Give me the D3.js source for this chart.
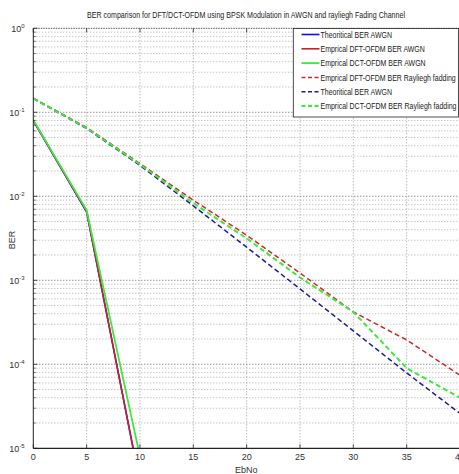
<!DOCTYPE html>
<html><head><meta charset="utf-8">
<script src="https://cdn.jsdelivr.net/npm/d3@7"></script>
<style>body{margin:0;background:#fff;overflow:hidden}</style>
</head><body><svg id="c" width="459" height="474"></svg>
<script>
// ---- data ----
const ebno = [0, 5, 10, 15, 20, 25, 30, 35, 40];
const ebnoAwgn = [0, 5, 10];
const theoryAwgn = [0.0795, 0.0065, 3.9e-6];
const dftAwgn = [0.080, 0.0066, 3.8e-6];
const dctAwgn = [0.081, 0.0068, 8.0e-6];
const dftRay = [0.147, 0.066, 0.0245, 0.0090, 0.00344, 0.00122, 0.00042, 0.000195, 0.000074];
const theoryRay = [0.146, 0.064, 0.0233, 0.0077, 0.00248, 0.00079, 0.00025, 0.000079, 0.000026];
const dctRay = [0.146, 0.065, 0.0240, 0.0083, 0.00316, 0.00108, 0.00042, 0.000090, 0.000040];
const xTicks = [0, 5, 10, 15, 20, 25, 30, 35, 40];
const yExps = [0, -1, -2, -3, -4, -5];
const titleText = "BER comparison for DFT/DCT-OFDM using BPSK Modulation in AWGN and rayliegh Fading Channel";
const xLabel = "EbNo";
const yLabel = "BER";
const legendLabels = [
  "Theoritical BER AWGN",
  "Emprical DFT-OFDM BER AWGN",
  "Emprical DCT-OFDM BER AWGN",
  "Emprical DFT-OFDM BER Rayliegh fadding",
  "Theoritical BER AWGN",
  "Emprical DCT-OFDM BER Rayliegh fadding"
];

const series = [
  {x: ebnoAwgn, y: theoryAwgn, color: "#1010e8", dash: null, w: 1.6},
  {x: ebnoAwgn, y: dftAwgn, color: "#c8202a", dash: null, w: 1.6},
  {x: ebnoAwgn, y: dctAwgn, color: "#3ee83e", dash: null, w: 1.8},
  {x: ebno, y: dftRay, color: "#d02828", dash: "5,3", w: 1.5},
  {x: ebno, y: theoryRay, color: "#1c1c96", dash: "5,3", w: 1.5},
  {x: ebno, y: dctRay, color: "#3ee83e", dash: "5,3", w: 2.0}
];

const svg = d3.select("#c");
const font = "'Liberation Sans Narrow','Arial Narrow','Liberation Sans',Arial,sans-serif";
const L = 33.3, R = 460, T = 28.3, B = 448.3;
const x = d3.scaleLinear().domain([0, 40]).range([L, R]);
const y = d3.scaleLog().domain([1e-5, 1]).range([B, T]);

svg.append("rect").attr("width", 459).attr("height", 474).attr("fill", "#fff");

// grid
const g = svg.append("g");
const minorVals = [];
for (let e = -5; e < 0; e++) for (let m = 2; m <= 9; m++) minorVals.push(m * Math.pow(10, e));
g.selectAll(".ymin").data(minorVals).enter().append("line")
  .attr("x1", L).attr("x2", R).attr("y1", d => y(d)).attr("y2", d => y(d))
  .attr("stroke", "#9a9a9a").attr("stroke-width", 0.8).attr("stroke-dasharray", "1,2");
g.selectAll(".ymaj").data(yExps.slice(1, 5)).enter().append("line")
  .attr("x1", L).attr("x2", R).attr("y1", d => y(Math.pow(10, d))).attr("y2", d => y(Math.pow(10, d)))
  .attr("stroke", "#555").attr("stroke-width", 0.9).attr("stroke-dasharray", "1,2");
g.selectAll(".xg").data(xTicks.slice(1)).enter().append("line")
  .attr("x1", d => x(d)).attr("x2", d => x(d)).attr("y1", T).attr("y2", B)
  .attr("stroke", "#8a8a8a").attr("stroke-width", 0.8).attr("stroke-dasharray", "1,2");

// lines
svg.append("clipPath").attr("id", "clip").append("rect")
  .attr("x", L).attr("y", T).attr("width", R - L).attr("height", B - T);
const lineGen = d3.line().x(d => x(d[0])).y(d => y(d[1]));
const lg = svg.append("g").attr("clip-path", "url(#clip)");
series.forEach(s => {
  lg.append("path").datum(s.x.map((v, i) => [v, s.y[i]]))
    .attr("d", lineGen).attr("fill", "none").attr("stroke", s.color)
    .attr("stroke-width", s.w).attr("stroke-dasharray", s.dash);
});

// axes box
svg.append("line").attr("x1", L).attr("x2", L).attr("y1", T).attr("y2", B).attr("stroke", "#222").attr("stroke-width", 1);
svg.append("line").attr("x1", L).attr("x2", R).attr("y1", B).attr("y2", B).attr("stroke", "#222").attr("stroke-width", 1.2);
svg.append("line").attr("x1", L).attr("x2", R).attr("y1", T).attr("y2", T).attr("stroke", "#444").attr("stroke-width", 0.9).attr("stroke-dasharray", "1.5,1");

// x ticks
const xAxisG = svg.append("g");
xAxisG.selectAll(".xt").data(xTicks).enter().append("line")
  .attr("x1", d => x(d)).attr("x2", d => x(d)).attr("y1", B).attr("y2", B - 4).attr("stroke", "#222").attr("stroke-width", 0.8);
xAxisG.selectAll(".xtt").data(xTicks).enter().append("line")
  .attr("x1", d => x(d)).attr("x2", d => x(d)).attr("y1", T).attr("y2", T + 4).attr("stroke", "#222").attr("stroke-width", 0.8);
xAxisG.selectAll(".xl").data(xTicks).enter().append("text")
  .attr("x", d => x(d)).attr("y", 460).attr("text-anchor", "middle")
  .attr("font-family", font).attr("font-size", 9).attr("fill", "#333").text(d => d);

// y ticks
svg.selectAll(".ytm").data(yExps).enter().append("line")
  .attr("x1", L).attr("x2", L + 4).attr("y1", d => y(Math.pow(10, d))).attr("y2", d => y(Math.pow(10, d)))
  .attr("stroke", "#222").attr("stroke-width", 0.8);
svg.selectAll(".ytn").data(minorVals).enter().append("line")
  .attr("x1", L).attr("x2", L + 2.5).attr("y1", d => y(d)).attr("y2", d => y(d))
  .attr("stroke", "#222").attr("stroke-width", 0.6);
const yl = svg.selectAll(".yl").data(yExps).enter().append("text")
  .attr("x", 24.5).attr("y", d => y(Math.pow(10, d)) + 3.5).attr("text-anchor", "end")
  .attr("font-family", font).attr("font-size", 9).attr("fill", "#333");
yl.append("tspan").text("10");
yl.append("tspan").attr("font-size", 6).attr("dy", -4).text(d => d);

// labels
const tt = svg.append("text").attr("x", 246).attr("y", 18).attr("text-anchor", "middle")
  .attr("font-family", font).attr("font-size", 9).attr("fill", "#222").text(titleText);
tt.attr("textLength", 318).attr("lengthAdjust", "spacingAndGlyphs");
svg.append("text").attr("x", 246.3).attr("y", 472.5).attr("text-anchor", "middle")
  .attr("font-family", font).attr("font-size", 9).attr("fill", "#333").text(xLabel);
svg.append("text").attr("transform", "translate(14.5,240) rotate(-90)").attr("text-anchor", "middle")
  .attr("font-family", font).attr("font-size", 9).attr("fill", "#333").text(yLabel);

// legend
const lx0 = 293.3, ly0 = 28.5, lw = 165.2, lh = 88.5;
const leg = svg.append("g");
leg.append("rect").attr("x", lx0).attr("y", ly0).attr("width", lw).attr("height", lh)
  .attr("fill", "#fff").attr("stroke", "#222").attr("stroke-width", 0.8);
const rowY = i => 34.5 + i * 14.3;
series.forEach((s, i) => {
  leg.append("line").attr("x1", 301.5).attr("x2", 319.5).attr("y1", rowY(i)).attr("y2", rowY(i))
    .attr("stroke", s.color).attr("stroke-width", s.w).attr("stroke-dasharray", s.dash ? "4,2.5" : null);
});
const texts = leg.selectAll(".lt").data(legendLabels).enter().append("text")
  .attr("x", 320.5).attr("y", (d, i) => rowY(i) + 3.2)
  .attr("font-family", font).attr("font-size", 8.8).attr("fill", "#222").text(d => d);
let maxW = 0;
texts.each(function () { maxW = Math.max(maxW, this.getComputedTextLength()); });
const k = 136 / maxW;
texts.each(function () {
  d3.select(this).attr("textLength", this.getComputedTextLength() * k).attr("lengthAdjust", "spacingAndGlyphs");
});
</script>
</body></html>
